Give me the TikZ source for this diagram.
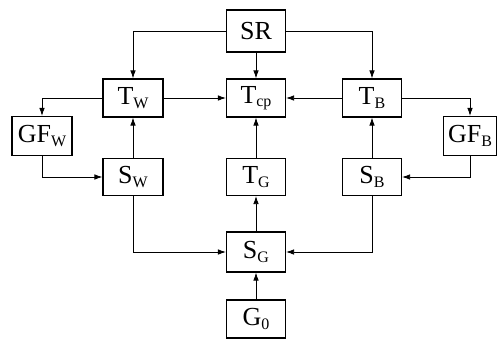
\documentclass[tikz,border=0pt]{standalone}
\usepackage{fontspec}
\setmainfont{Liberation Serif}
\usetikzlibrary{arrows.meta}
\newcommand\sbx[1]{\raisebox{-0.3ex}{\fontsize{16}{16}\selectfont #1}}
\begin{document}
\begin{tikzpicture}[x=1pt,y=-1pt,
  blk/.style={draw,line width=1.1pt,minimum width=59pt,minimum height=38pt,inner sep=0pt,font=\fontsize{26}{26}\selectfont},
  arr/.style={line width=0.8pt,-{Latex[length=8pt,width=5.5pt]}}]
\useasboundingbox (0,0) rectangle (498,340);
\node[blk,minimum height=42pt] (SR) at (256,31) {SR};
\node[blk,minimum width=60pt] (Tw) at (133,98) {T\sbx{W}};
\node[blk] (Tcp) at (256,98) {T\sbx{cp}};
\node[blk] (TB) at (372,98) {T\sbx{B}};
\node[blk,minimum width=60pt,minimum height=39pt] (GFw) at (42,136) {GF\sbx{W}};
\node[blk,minimum width=53pt,minimum height=39pt] (GFB) at (470,136) {GF\sbx{B}};
\node[blk,minimum width=60pt,minimum height=37pt] (Sw) at (133,177) {S\sbx{W}};
\node[blk,minimum height=37pt] (TG) at (256,177) {T\sbx{G}};
\node[blk,minimum height=37pt] (SB) at (372,177) {S\sbx{B}};
\node[blk,minimum height=40pt] (SG) at (256,252) {S\sbx{G}};
\node[blk] (G0) at (256,319) {G\sbx{0}};
\draw[arr] (SR.west) -| (Tw.north);
\draw[arr] (SR.east) -| (TB.north);
\draw[arr] (SR) -- (Tcp);
\draw[arr] (Tw.west) -| (GFw.north);
\draw[arr] (TB.east) -| (GFB.north);
\draw[arr] (Tw) -- (Tcp);
\draw[arr] (TB) -- (Tcp);
\draw[arr] (GFw.south) |- (Sw.west);
\draw[arr] (GFB.south) |- (SB.east);
\draw[arr] (Sw) -- (Tw);
\draw[arr] (TG) -- (Tcp);
\draw[arr] (SB) -- (TB);
\draw[arr] (Sw.south) |- (SG.west);
\draw[arr] (SB.south) |- (SG.east);
\draw[arr] (SG) -- (TG);
\draw[arr] (G0) -- (SG);
\end{tikzpicture}
\end{document}
